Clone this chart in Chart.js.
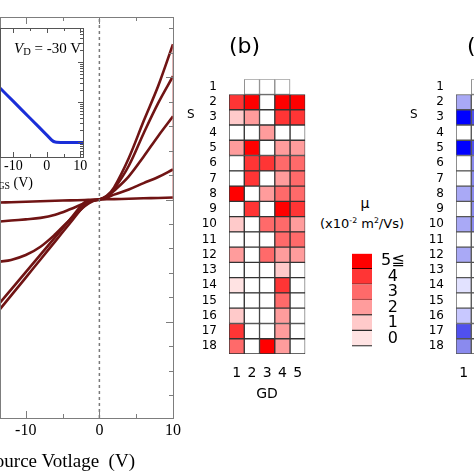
<!DOCTYPE html>
<html>
<head>
<meta charset="utf-8">
<script src="https://cdn.jsdelivr.net/npm/chart.js@4.4.1/dist/chart.umd.min.js"></script>
<style>
html,body{margin:0;padding:0;width:474px;height:474px;overflow:hidden;background:#fff;}
canvas{position:absolute;}
.lbl{position:absolute;white-space:pre;line-height:1;color:#000;}
.serif{font-family:"Liberation Serif","Times New Roman",serif;}
.sans{font-family:"DejaVu Sans",Verdana,sans-serif;}
sub{font-size:0.7em;vertical-align:-0.25em;line-height:0;}
sup{font-size:0.6em;vertical-align:0.55em;line-height:0;}
</style>
</head>
<body>
<canvas id="iv" width="220" height="474" style="left:-20px;top:0"></canvas>
<canvas id="inset" width="110" height="160" style="left:-20px;top:20px"></canvas>
<canvas id="mapB" width="140" height="360" style="left:180px;top:60px"></canvas>
<canvas id="legendB" width="90" height="130" style="left:340px;top:235px"></canvas>
<canvas id="mapC" width="140" height="360" style="left:407px;top:60px"></canvas>

<div class="lbl serif" style="right:339px;top:460px;transform:translateY(-50%);font-size:19px">Drain-Source Votlage  (V)</div>
<div class="lbl serif" style="right:441px;top:183px;transform:translateY(-50%);font-size:14px"><i>V</i><sub>GS</sub> (V)</div>
<div class="lbl serif" style="right:393px;top:48px;transform:translateY(-50%);font-size:15px"><i>V</i><sub>D</sub> = -30 V</div>

<div class="lbl sans" style="left:229px;top:46px;transform:translateY(-50%);font-size:22px">(b)</div>
<div class="lbl sans" style="left:467px;top:46px;transform:translateY(-50%);font-size:22px">(c)</div>
<div class="lbl sans" style="left:187px;top:114px;transform:translateY(-50%);font-size:12px">S</div>
<div class="lbl sans" style="left:410px;top:114px;transform:translateY(-50%);font-size:12px">S</div>
<div class="lbl sans" style="left:267px;top:393px;transform:translate(-50%,-50%);font-size:14px">GD</div>
<div class="lbl sans" style="left:365px;top:203px;transform:translate(-50%,-50%);font-size:14px">μ</div>
<div class="lbl sans" style="left:362px;top:223px;transform:translate(-50%,-50%);font-size:13px">(x10<sup>-2</sup> m<sup>2</sup>/Vs)</div>

<script>
// ---------- (a) I-V curves ----------
const sweepV = [-13.5, -12, -10, -8, -6, -4, -2, -1, 0, 1, 2, 4, 6, 8, 10];
const iCurve1 = [-4.48, -3.93, -3.19, -2.45, -1.71, -0.97, -0.24, -0.05, 0, 0.15, 0.5, 1.7, 3.2, 4.65, 6.35];
const iCurve2 = [-4.22, -3.68, -2.97, -2.25, -1.54, -0.82, -0.11, -0.02, 0, 0.13, 0.43, 1.38, 2.7, 3.95, 5.04];
const iCurve3 = [-2.54, -2.47, -2.27, -1.93, -1.42, -0.82, -0.27, -0.08, 0, 0.12, 0.36, 0.95, 1.75, 2.6, 3.4];
const iCurve4 = [-0.9, -0.86, -0.81, -0.75, -0.62, -0.4, -0.15, -0.06, 0, 0.08, 0.2, 0.41, 0.67, 0.92, 1.23];
const iCurve5 = [-0.12, -0.11, -0.09, -0.07, -0.05, -0.035, -0.02, -0.01, 0, 0.01, 0.015, 0.03, 0.05, 0.065, 0.08];
const ivTicksV = [-10, -5, 0, 5, 10];
const ivTickLabels = ['-10', '', '0', '', '10'];
const ivMinV = -13.5, ivMaxV = 10, ivMinI = -8.93, ivMaxI = 7.46;

// ---------- inset: transfer curve ----------
const gateV = [-14, -10, -5, 0, 1.5, 2.5, 5, 10.8];
const drainI = [0.535, 0.431, 0.30, 0.17, 0.13, 0.116, 0.112, 0.112];
const gsTicks = [-10, -5, 0, 5, 10];
const gsTickLabels = ['-10', '', '0', '', '10'];

// ---------- (b) / (c) mobility maps ----------
const rowLabels = ['1','2','3','4','5','6','7','8','9','10','11','12','13','14','15','16','17','18'];
const gdTicks = [1, 2, 3, 4, 5];
// 'x' = no device, null = not measured (white), number = mobility level
const muB = [
  ['x', null, null, null, 'x'],
  [4, 5, null, 5, 5],
  [1, 2, null, 4, 4],
  [null, null, 2, null, null],
  [2, 5, null, 2, 2],
  [null, 4, 4, 3, 3],
  [null, 4, null, 2, 3],
  [5, null, 2, 3, 3],
  [null, 4, null, 5, 4],
  [1, null, 3, 3, 2],
  [null, null, null, 3, 3],
  [2, null, 3, 2, 2],
  [null, null, null, 1, null],
  [0, null, null, 4, null],
  [null, null, null, 3, null],
  [1, null, null, 2, null],
  [4, null, null, 2, null],
  [3, null, 5, 2, null]
];
const muC = [
  ['x', null], [2, null], [5, 4], [null, null], [5, 4], [null, 3],
  [null, 3], [2, 3], [null, 3], [2, 3], [null, null], [2, null],
  [null, null], [0, null], [null, null], [1, null], [4, null], [3, null]
];
const redLevels = ['#ffe3e3', '#ffcaca', '#ff9c9c', '#ff6a6a', '#ff3535', '#ff0000'];
const blueLevels = ['#e2e2ff', '#c8c8ff', '#a9a9f6', '#8a8aee', '#5050ee', '#0000ff'];
const legendLabels = ['5≦', '4', '3', '2', '1', '0'];

const SERIF = '"Liberation Serif","Times New Roman",serif';
const SANS = '"DejaVu Sans",Verdana,sans-serif';

Chart.defaults.animation = false;
Chart.defaults.responsive = false;
Chart.defaults.devicePixelRatio = 1;
Chart.defaults.plugins.legend.display = false;
Chart.defaults.plugins.tooltip.enabled = false;

// frame with inward tick marks
function boxTicks(cfg){
  return {
    id: 'boxTicks',
    beforeDatasetsDraw(chart){
      if (!cfg.fill) return;
      const a = chart.chartArea, ctx = chart.ctx;
      ctx.save();
      ctx.fillStyle = cfg.fill;
      ctx.fillRect(a.left, a.top, a.right - a.left, a.bottom - a.top);
      ctx.restore();
    },
    afterDatasetsDraw(chart){
      const a = chart.chartArea, ctx = chart.ctx;
      const xs = chart.scales.x;
      ctx.save();
      ctx.strokeStyle = cfg.color;
      ctx.lineWidth = 1;
      ctx.strokeRect(Math.round(a.left) + 0.5, Math.round(a.top) + 0.5, Math.round(a.right - a.left), Math.round(a.bottom - a.top));
      ctx.beginPath();
      cfg.xTicks.forEach(v => {
        const px = Math.round(xs.getPixelForValue(v)) + 0.5;
        const len = v % 10 === 0 ? cfg.major : cfg.minor;
        ctx.moveTo(px, a.bottom); ctx.lineTo(px, a.bottom - len);
        ctx.moveTo(px, a.top); ctx.lineTo(px, a.top + len);
      });
      const ys = chart.scales[cfg.rightScale];
      cfg.rightTicks(ys).forEach(t => {
        const py = Math.round(ys.getPixelForValue(t.v)) + 0.5;
        if (py < a.top || py > a.bottom) return;
        ctx.moveTo(a.right, py); ctx.lineTo(a.right - (t.major ? cfg.major : cfg.minor), py);
      });
      ctx.stroke();
      ctx.restore();
    }
  };
}

function pts(xs, ys){ return xs.map((x, i) => ({x: x, y: ys[i]})); }

const curves = [iCurve1, iCurve2, iCurve3, iCurve4, iCurve5];
const ivDatasets = [{
  data: [{x: 0, y: ivMinI}, {x: 0, y: ivMaxI}],
  borderColor: '#7a7a7a', borderWidth: 1.5, borderDash: [3, 3]
}, {
  data: [{x: ivMaxV, y: 0}, {x: ivMaxV, y: iCurve1[iCurve1.length - 1]}],
  borderColor: '#c46a6a', borderWidth: 1
}];
curves.forEach(c => {
  ivDatasets.push({data: pts(sweepV, c), borderColor: '#701414', borderWidth: 2.6, tension: 0.35});
  ivDatasets.push({data: pts(sweepV, c), borderColor: '#bf4a4a', borderWidth: 0.9, tension: 0.35});
});
ivDatasets.forEach(d => { d.showLine = true; d.pointRadius = 0; });

new Chart(document.getElementById('iv'), {
  type: 'scatter',
  data: {datasets: ivDatasets},
  options: {
    layout: {padding: {left: 20, right: 27, top: 17, bottom: 0}},
    scales: {
      x: {
        type: 'linear', min: ivMinV, max: ivMaxV,
        afterFit(s){ s.height = 56; },
        afterBuildTicks(s){ s.ticks = ivTicksV.map(v => ({value: v})); },
        grid: {display: false, drawTicks: false}, border: {display: false},
        ticks: {padding: 3, color: '#000', font: {family: SERIF, size: 16},
          autoSkip: false, maxRotation: 0,
          callback: (v) => ivTickLabels[ivTicksV.indexOf(v)]}
      },
      y: {type: 'linear', min: ivMinI, max: ivMaxI, display: false}
    }
  },
  plugins: [boxTicks({
    color: '#7d7d7d', major: 7, minor: 4, xTicks: ivTicksV, rightScale: 'y',
    rightTicks: (s) => {
      const out = [];
      for (let v = Math.ceil(s.min); v <= Math.floor(s.max); v++) out.push({v: v, major: v % 5 === 0});
      return out;
    }
  })]
});

new Chart(document.getElementById('inset'), {
  type: 'scatter',
  data: {datasets: [{data: pts(gateV, drainI), showLine: true, pointRadius: 0,
    borderColor: '#1a2ed8', borderWidth: 3, tension: 0.2}]},
  options: {
    layout: {padding: {left: 20, right: 7, top: 8, bottom: 0}},
    scales: {
      x: {
        type: 'linear', min: -14, max: 10.8,
        afterFit(s){ s.height = 23; },
        afterBuildTicks(s){ s.ticks = gsTicks.map(v => ({value: v})); },
        grid: {display: false, drawTicks: false}, border: {display: false},
        ticks: {padding: 1, color: '#000', font: {family: SERIF, size: 14},
          autoSkip: false, maxRotation: 0, minRotation: 0,
          callback: (v) => gsTickLabels[gsTicks.indexOf(v)]}
      },
      y: {type: 'linear', min: 0, max: 1, display: false},
      y2: {type: 'logarithmic', min: 0.42, max: 708, display: false}
    }
  },
  plugins: [boxTicks({
    color: '#555', fill: '#fff', major: 5, minor: 3, xTicks: gsTicks, rightScale: 'y2',
    rightTicks: (s) => {
      const out = [];
      for (let e = -1; e <= 3; e++) for (let k = 1; k <= 9; k++) out.push({v: k * Math.pow(10, e), major: k === 1});
      return out;
    }
  })]
});

function cellColor(v, palette){
  if (v === null || v === 'x') return '#ffffff';
  return palette[Math.max(0, Math.min(5, Math.floor(v)))];
}

function heatmap(id, mu, palette, edge){
  const nCols = mu[0].length;
  const datasets = [];
  for (let c = 0; c < nCols; c++) {
    datasets.push({
      data: mu.map(row => row[c] === 'x' ? null : [gdTicks[c] - 0.5, gdTicks[c] + 0.5]),
      backgroundColor: mu.map(row => cellColor(row[c], palette)),
      borderColor: mu.map((row, r) => r === 0 ? '#8a8a8a' : edge),
      borderWidth: 1, borderSkipped: false, grouped: false,
      barPercentage: 1, categoryPercentage: 1
    });
  }
  return new Chart(document.getElementById(id), {
    type: 'bar',
    data: {labels: rowLabels, datasets: datasets},
    options: {
      indexAxis: 'y',
      layout: {padding: {left: 0, right: 14.7, top: 18, bottom: 0}},
      scales: {
        x: {
          type: 'linear', min: 0.5, max: 5.5,
          afterFit(s){ s.height = 66; },
          afterBuildTicks(s){ s.ticks = gdTicks.map(v => ({value: v})); },
          grid: {display: false, drawTicks: false}, border: {display: false},
          ticks: {padding: 11, color: '#000', autoSkip: false, maxRotation: 0, font: {family: SANS, size: 14}}
        },
        y: {
          afterFit(s){ s.width = 49; },
          grid: {display: false, drawTicks: false}, border: {display: false},
          ticks: {padding: 12, color: '#000', autoSkip: false, font: {family: SANS, size: 12}}
        }
      }
    }
  });
}

heatmap('mapB', muB, redLevels, '#333');
heatmap('mapC', muC, blueLevels, '#555');

new Chart(document.getElementById('legendB'), {
  type: 'bar',
  data: {labels: legendLabels, datasets: [{
    data: legendLabels.map(() => 1),
    backgroundColor: redLevels.slice().reverse(),
    borderColor: ['#3a0000', '#a03030', '#b04848', '#1a1a1a', '#2a2a2a', '#2a2a2a'],
    borderWidth: {top: 0, left: 0, right: 0, bottom: 1.5}, borderSkipped: false,
    barPercentage: 1, categoryPercentage: 1
  }]},
  options: {
    indexAxis: 'y',
    layout: {padding: {left: 12, right: 0, top: 8, bottom: 8}},
    scales: {
      x: {display: false, min: 0, max: 1},
      y: {
        position: 'right',
        afterFit(s){ s.width = 58; },
        grid: {display: false, drawTicks: false}, border: {display: false},
        ticks: {padding: 9, crossAlign: 'center', autoSkip: false, color: '#000', font: {family: SANS, size: 16}}
      }
    }
  }
});
</script>
</body>
</html>
